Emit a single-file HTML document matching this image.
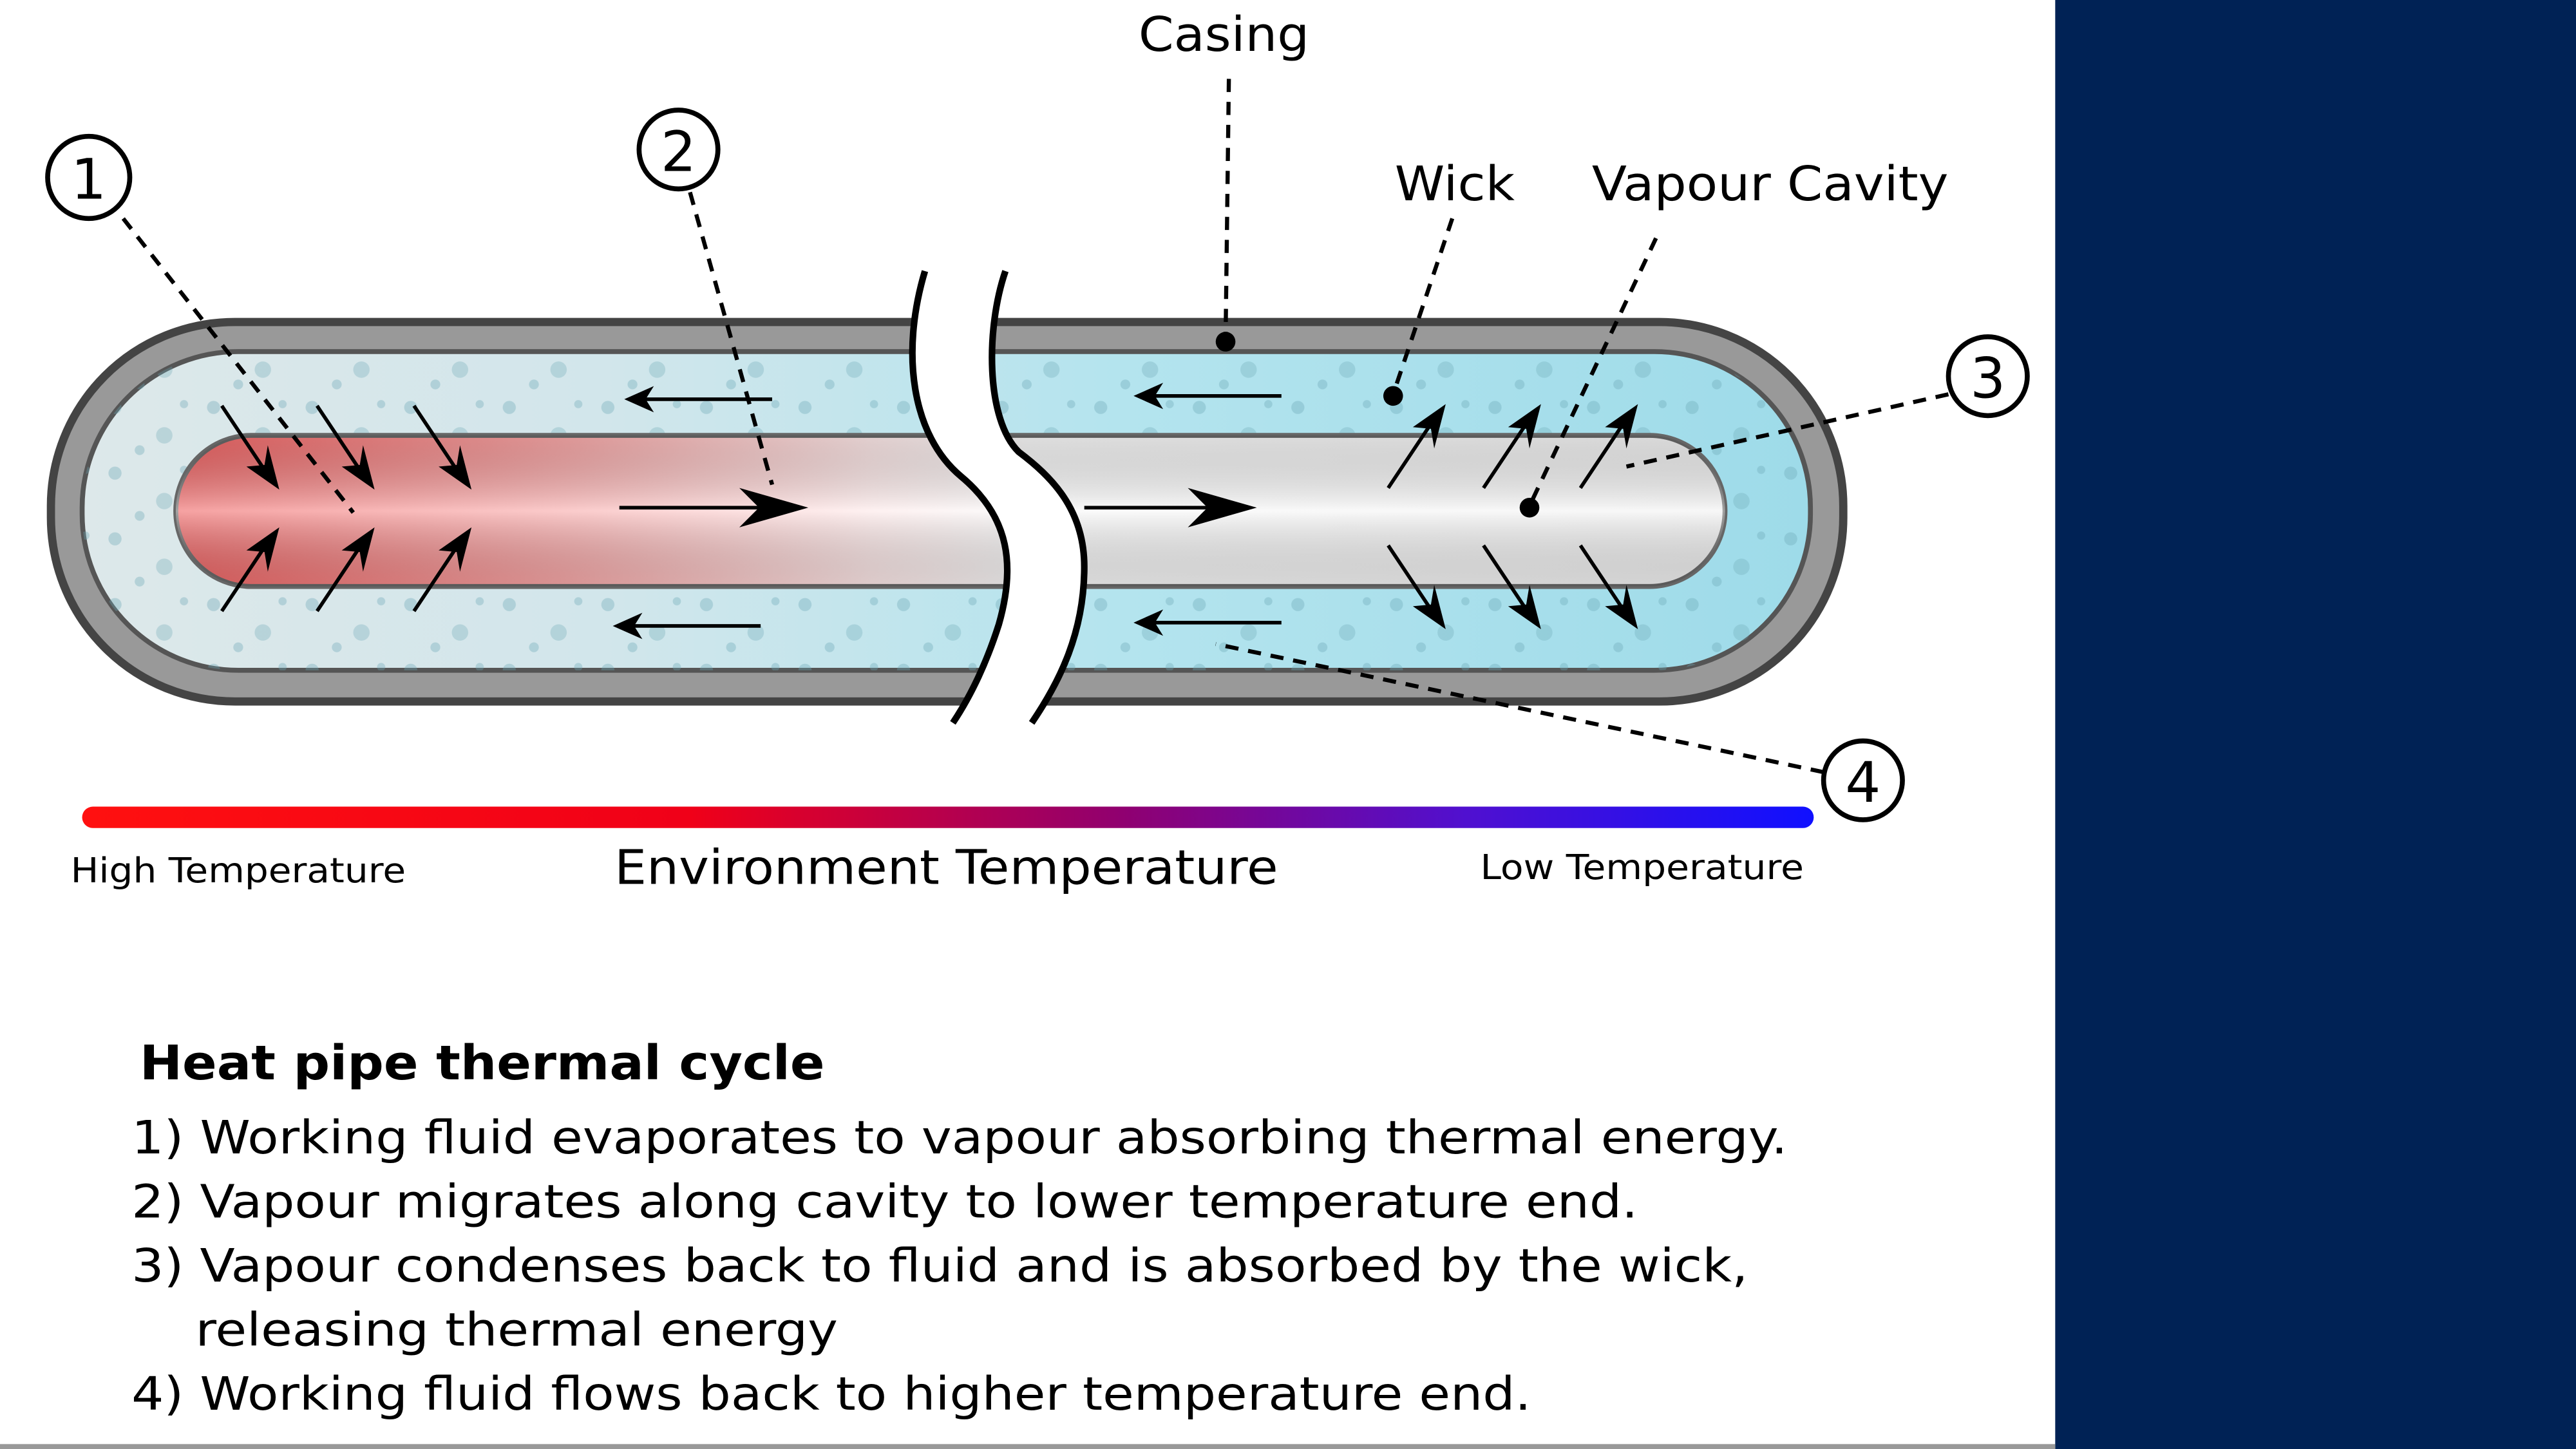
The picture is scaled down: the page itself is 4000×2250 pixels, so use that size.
<!DOCTYPE html>
<html><head><meta charset="utf-8"><style>
html,body{margin:0;padding:0;background:#fff}
svg{display:block}
text{font-family:"DejaVu Sans","Liberation Sans",sans-serif;fill:#000}
</style></head><body>
<svg width="4000" height="2250" viewBox="0 0 1568 882" preserveAspectRatio="none" xmlns="http://www.w3.org/2000/svg">
<defs>
<linearGradient id="wick" x1="0" x2="1" y1="0" y2="0">
<stop offset="0" stop-color="#dde8ea"/><stop offset="0.3" stop-color="#d2e6eb"/><stop offset="0.6" stop-color="#b4e4ee"/><stop offset="1" stop-color="#9edbe9"/>
</linearGradient>
<linearGradient id="cavH" x1="0" x2="1" y1="0" y2="0">
<stop offset="0" stop-color="#f06464"/><stop offset="0.25" stop-color="#f8a8a8"/><stop offset="0.45" stop-color="#fde8e8"/><stop offset="0.55" stop-color="#f8f8f8"/><stop offset="1" stop-color="#f2f2f2"/>
</linearGradient>
<linearGradient id="cavV" x1="0" x2="0" y1="0" y2="1">
<stop offset="0" stop-color="#000" stop-opacity="0.1"/><stop offset="0.5" stop-color="#fff" stop-opacity="0.4"/><stop offset="1" stop-color="#000" stop-opacity="0.12"/>
</linearGradient>
<linearGradient id="temp" gradientUnits="userSpaceOnUse" x1="52" x2="1103" y1="0" y2="0">
<stop offset="0" stop-color="#ff1010"/><stop offset="0.35" stop-color="#f00018"/><stop offset="0.6" stop-color="#900070"/><stop offset="0.8" stop-color="#5010d0"/><stop offset="1" stop-color="#1010ff"/>
</linearGradient>
<pattern id="spots" width="60" height="40" patternUnits="userSpaceOnUse">
<circle cx="10" cy="8" r="4" fill="#6aa6b4" opacity="0.35"/><circle cx="40" cy="25" r="5" fill="#6aa6b4" opacity="0.3"/><circle cx="25" cy="34" r="3" fill="#6aa6b4" opacity="0.35"/><circle cx="52" cy="6" r="2.5" fill="#6aa6b4" opacity="0.35"/>
</pattern>
</defs>
<rect x="1251" y="0" width="317" height="882" fill="#002255"/>
<rect x="0" y="879" width="1251" height="3" fill="#999"/>

<rect x="31" y="196" width="1091" height="231" rx="112" fill="#999" stroke="#444" stroke-width="5"/>
<rect x="50" y="214" width="1052" height="194" rx="95" fill="url(#wick)" stroke="#555" stroke-width="3"/>
<rect x="50" y="214" width="1052" height="194" rx="95" fill="url(#spots)"/>
<rect x="107" y="265" width="943" height="92" rx="46" fill="url(#cavH)" stroke="#666" stroke-width="3"/>
<rect x="107" y="265" width="943" height="92" rx="46" fill="url(#cavV)"/>

<path d="M563,165 C548,215 555,265 585,290 C615,315 618,345 608,380 C600,405 590,425 580,440 L628,440 C645,415 660,385 660,345 C660,310 640,290 620,275 C600,255 600,200 612,165 Z" fill="#fff"/>
<path d="M563,165 C548,215 555,265 585,290 C615,315 618,345 608,380 C600,405 590,425 580,440" fill="none" stroke="#000" stroke-width="4"/>
<path d="M612,165 C600,200 600,255 620,275 C640,290 660,310 660,345 C660,385 645,415 628,440" fill="none" stroke="#000" stroke-width="4"/>

<g stroke="#000" stroke-width="2.2" fill="none">
<line x1="470" y1="243" x2="390" y2="243"/><line x1="780" y1="241" x2="700" y2="241"/>
<line x1="463" y1="381" x2="383" y2="381"/><line x1="780" y1="379" x2="700" y2="379"/>
<line x1="377" y1="309" x2="480" y2="309"/><line x1="660" y1="309" x2="755" y2="309"/>
<line x1="135" y1="247" x2="165" y2="292"/><line x1="193" y1="247" x2="223" y2="292"/><line x1="252" y1="247" x2="282" y2="292"/>
<line x1="135" y1="372" x2="165" y2="327"/><line x1="193" y1="372" x2="223" y2="327"/><line x1="252" y1="372" x2="282" y2="327"/>
<line x1="845" y1="297" x2="875" y2="252"/><line x1="903" y1="297" x2="933" y2="252"/><line x1="962" y1="297" x2="992" y2="252"/>
<line x1="845" y1="332" x2="875" y2="377"/><line x1="903" y1="332" x2="933" y2="377"/><line x1="962" y1="332" x2="992" y2="377"/>
</g>
<g fill="#000">
<polygon points="380,243 398,235 393,243 398,251"/><polygon points="690,241 708,233 703,241 708,249"/>
<polygon points="373,381 391,373 386,381 391,389"/><polygon points="690,379 708,371 703,379 708,387"/>
<polygon points="492,309 450,297 462,309 450,321"/><polygon points="765,309 723,297 735,309 723,321"/>
<polygon points="170,298 150,284 161,283 163,271"/><polygon points="228,298 208,284 219,283 221,271"/><polygon points="287,298 267,284 278,283 280,271"/>
<polygon points="170,321 150,335 161,336 163,348"/><polygon points="228,321 208,335 219,336 221,348"/><polygon points="287,321 267,335 278,336 280,348"/>
<polygon points="880,246 860,260 871,261 873,273"/><polygon points="938,246 918,260 929,261 931,273"/><polygon points="997,246 977,260 988,261 990,273"/>
<polygon points="880,383 860,369 871,368 873,356"/><polygon points="938,383 918,369 929,368 931,356"/><polygon points="997,383 977,369 988,368 990,356"/>
</g>

<g stroke="#000" stroke-width="2.5" stroke-dasharray="8,6" fill="none">
<line x1="75" y1="133" x2="215" y2="312"/>
<line x1="420" y1="117" x2="470" y2="295"/>
<line x1="748" y1="48" x2="746" y2="207"/>
<line x1="884" y1="133" x2="848" y2="240"/>
<line x1="1008" y1="145" x2="931" y2="308"/>
<line x1="1186" y1="240" x2="990" y2="284"/>
<line x1="1110" y1="470" x2="740" y2="392"/>
</g>
<g fill="#000"><circle cx="746" cy="208" r="6"/><circle cx="848" cy="241" r="6"/><circle cx="931" cy="309" r="6"/></g>

<g fill="#fff" stroke="#000" stroke-width="3">
<circle cx="54" cy="108" r="25"/><circle cx="413" cy="91" r="24"/><circle cx="1210" cy="229" r="24"/><circle cx="1134" cy="475" r="24"/>
</g>
<g font-size="34" text-anchor="middle">
<text x="54" y="121">1</text><text x="413" y="104">2</text><text x="1210" y="242">3</text><text x="1134" y="488">4</text>
</g>

<g font-size="29">
<text x="693" y="31" textLength="104" lengthAdjust="spacingAndGlyphs">Casing</text>
<text x="849" y="122" textLength="73" lengthAdjust="spacingAndGlyphs">Wick</text>
<text x="969" y="122" textLength="217" lengthAdjust="spacingAndGlyphs">Vapour Cavity</text>
</g>

<rect x="50" y="491" width="1054" height="13" rx="6.5" fill="url(#temp)"/>
<text x="43" y="537" font-size="21" textLength="204" lengthAdjust="spacingAndGlyphs">High Temperature</text>
<text x="374" y="538" font-size="29" textLength="404" lengthAdjust="spacingAndGlyphs">Environment Temperature</text>
<text x="901" y="535" font-size="21" textLength="197" lengthAdjust="spacingAndGlyphs">Low Temperature</text>

<text x="85" y="657" font-size="29" font-weight="bold" textLength="417" lengthAdjust="spacingAndGlyphs">Heat pipe thermal cycle</text>
<g font-size="28">
<text x="80" y="702" textLength="1008" lengthAdjust="spacingAndGlyphs">1) Working fluid evaporates to vapour absorbing thermal energy.</text>
<text x="80" y="741" textLength="917" lengthAdjust="spacingAndGlyphs">2) Vapour migrates along cavity to lower temperature end.</text>
<text x="80" y="780" textLength="984" lengthAdjust="spacingAndGlyphs">3) Vapour condenses back to fluid and is absorbed by the wick,</text>
<text x="119" y="819" textLength="391" lengthAdjust="spacingAndGlyphs">releasing thermal energy</text>
<text x="80" y="858" textLength="852" lengthAdjust="spacingAndGlyphs">4) Working fluid flows back to higher temperature end.</text>
</g>
</svg>
</body></html>
